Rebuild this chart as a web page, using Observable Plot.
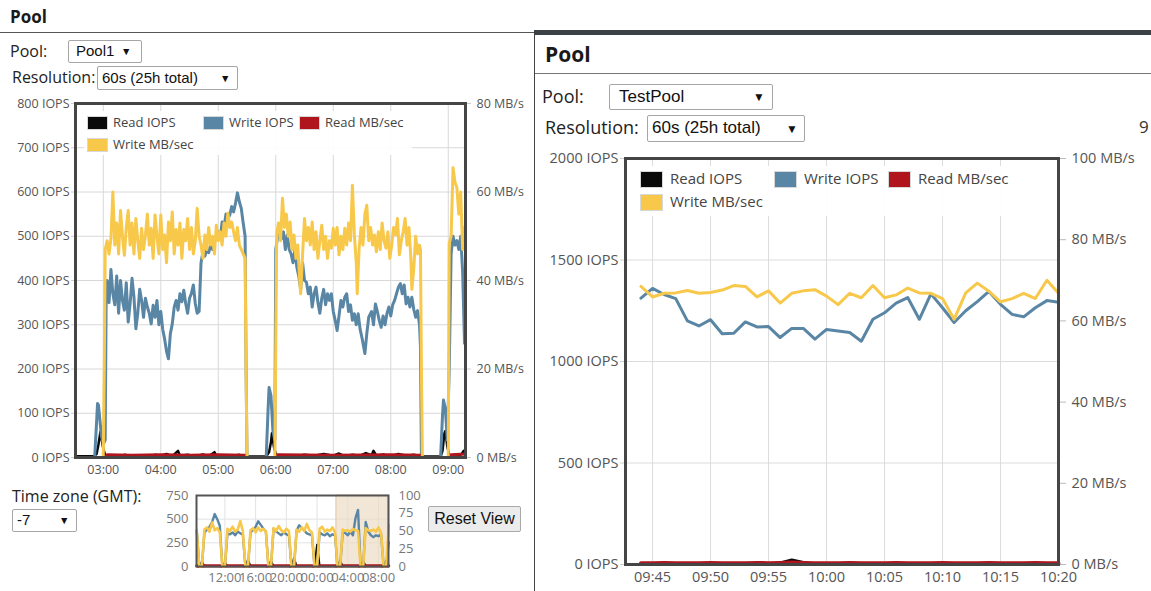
<!DOCTYPE html>
<html><head><meta charset="utf-8">
<script src="https://cdn.jsdelivr.net/npm/d3@7"></script>
<script src="https://cdn.jsdelivr.net/npm/@observablehq/plot@0.6"></script>
<style>
body{margin:0;background:#fff;}
#page{position:relative;width:1151px;height:591px;overflow:hidden;background:#fff;font-family:"Open Sans",sans-serif;color:#222;}
.a{position:absolute;white-space:nowrap;}
.sel{position:absolute;box-sizing:border-box;border:1px solid #a6a6a6;border-radius:2px;background:#fff;font-family:"Liberation Sans",Arial,sans-serif;color:#111;white-space:nowrap;}
.sel .arr{position:absolute;top:0;font-size:0.7em;}
.leg{position:absolute;background:rgba(255,255,255,0.92);}
.leg .it{position:absolute;white-space:nowrap;color:#444;}
.leg .sw{position:absolute;box-sizing:border-box;border:1px solid #d8d8d8;}
.chart{position:absolute;}
.chart svg{overflow:visible;}
</style></head>
<body><div id="page">
  <!-- left panel -->
  <div class="a" style="left:10px;top:5px;font-size:17px;font-weight:700;color:#1a1a1a;">Pool</div>
  <div class="a" style="left:0;top:32px;width:534px;height:1px;background:#555;"></div>
  <div class="a" style="left:10px;top:40px;font-size:16px;">Pool:</div>
  <div class="sel" style="left:68px;top:40px;width:74px;height:23px;font-size:15px;padding:1px 0 0 7px;">Pool1<span class="arr" style="left:52px;top:4px;">▼</span></div>
  <div class="a" style="left:12px;top:66px;font-size:16px;">Resolution:</div>
  <div class="sel" style="left:97px;top:66px;width:141px;height:24px;font-size:15px;padding:2px 0 0 4px;">60s (25h total)<span class="arr" style="left:122px;top:5px;">▼</span></div>
  <div class="a" style="left:12px;top:485px;font-size:16px;">Time zone (GMT):</div>
  <div class="sel" style="left:12px;top:509px;width:65px;height:23px;font-size:15px;padding:1px 0 0 4px;">-7<span class="arr" style="left:46px;top:4px;">▼</span></div>
  <div class="a" style="left:428px;top:506px;width:93px;height:26px;box-sizing:border-box;border:1px solid #a9a9a9;border-radius:2px;background:#ececec;font-family:'Liberation Sans',Arial,sans-serif;font-size:16px;text-align:center;line-height:24px;color:#111;">Reset View</div>
  <div class="a" style="left:534px;top:32px;width:1px;height:559px;background:#444;"></div>
  <!-- right panel -->
  <div class="a" style="left:534px;top:30px;width:617px;height:5px;background:#3b4145;"></div>
  <div class="a" style="left:545px;top:40px;font-size:21px;font-weight:700;color:#1a1a1a;">Pool</div>
  <div class="a" style="left:535px;top:73px;width:616px;height:1px;background:#777;"></div>
  <div class="a" style="left:542px;top:84px;font-size:18px;">Pool:</div>
  <div class="sel" style="left:609px;top:84px;width:164px;height:26px;font-size:17px;padding:2px 0 0 9px;">TestPool<span class="arr" style="left:143px;top:5px;">▼</span></div>
  <div class="a" style="left:545px;top:115px;font-size:18px;">Resolution:</div>
  <div class="sel" style="left:647px;top:115px;width:158px;height:27px;font-size:17px;padding:2px 0 0 4px;">60s (25h total)<span class="arr" style="left:138px;top:6px;">▼</span></div>
  <div class="a" style="left:1139px;top:115px;font-size:17px;color:#333;">9</div>

  <div id="leftMain" class="chart" style="left:0;top:95px;"></div>
  <div id="overview" class="chart" style="left:150px;top:488px;"></div>
  <div id="rightMain" class="chart" style="left:535px;top:145px;"></div>
  <div id="leftLegend" class="leg" style="left:84px;top:111px;width:328px;height:44px;"></div>
  <div id="rightLegend" class="leg" style="left:636px;top:166px;width:380px;height:50px;"></div>
</div>
<script>
// ---------------- DATA ----------------
const seriesNames = ["Read IOPS", "Write IOPS", "Read MB/sec", "Write MB/sec"];

// Left main chart (day 2), [time, value]; IOPS series in IOPS, MB series in MB/s
const leftWriteIops = [["02:31",0],["02:51",0],["02:53",80],["02:54",122],["02:55",118],["02:56",95],["02:58",50],["03:00",30],["03:02",40],["03:03",360],["03:04",400],["03:06",350],["03:08",425],["03:10",370],["03:12",345],["03:14",410],["03:16",326],["03:18",400],["03:20",355],["03:22",333],["03:24",395],["03:26",306],["03:28",348],["03:30",405],["03:32",363],["03:34",291],["03:36",326],["03:38",380],["03:40",355],["03:42",317],["03:44",360],["03:46",340],["03:48",326],["03:50",302],["03:52",344],["03:54",317],["03:56",355],["03:58",300],["04:00",330],["04:02",290],["04:04",268],["04:06",240],["04:08",223],["04:10",280],["04:12",302],["04:14",340],["04:16",355],["04:18",333],["04:20",370],["04:22",352],["04:24",378],["04:26",348],["04:28",326],["04:30",360],["04:32",371],["04:34",390],["04:36",348],["04:38",326],["04:40",330],["04:42",440],["04:44",465],["04:46",455],["04:48",470],["04:50",463],["04:52",480],["04:54",470],["04:56",490],["04:58",500],["05:00",510],["05:02",495],["05:04",532],["05:06",520],["05:08",550],["05:10",540],["05:12",548],["05:14",567],["05:16",555],["05:18",575],["05:20",598],["05:22",578],["05:24",563],["05:26",530],["05:28",500],["05:29",200],["05:30",0],["05:50",0],["05:52",110],["05:53",158],["05:55",140],["05:57",60],["05:59",40],["06:00",470],["06:02",500],["06:04",518],["06:06",495],["06:08",510],["06:10",470],["06:12",503],["06:14",470],["06:16",460],["06:18",440],["06:20",470],["06:22",430],["06:24",410],["06:26",380],["06:28",440],["06:30",400],["06:32",396],["06:34",370],["06:36",385],["06:38",340],["06:40",370],["06:42",385],["06:44",350],["06:46",326],["06:48",360],["06:50",380],["06:52",345],["06:54",370],["06:56",355],["06:58",370],["07:00",330],["07:02",310],["07:04",287],["07:06",320],["07:08",355],["07:10",340],["07:12",362],["07:14",370],["07:16",330],["07:18",345],["07:20",310],["07:22",325],["07:24",300],["07:26",325],["07:28",290],["07:30",270],["07:33",235],["07:35",280],["07:37",317],["07:40",330],["07:42",300],["07:44",347],["07:46",330],["07:48",310],["07:50",294],["07:52",320],["07:54",300],["07:56",325],["07:58",340],["08:00",320],["08:02",345],["08:04",355],["08:06",370],["08:08",385],["08:10",393],["08:12",370],["08:14",390],["08:16",347],["08:18",362],["08:20",340],["08:22",362],["08:24",335],["08:26",317],["08:28",332],["08:30",300],["08:31",250],["08:32",0],["08:52",0],["08:54",95],["08:55",130],["08:57",110],["08:59",40],["09:01",200],["09:03",460],["09:05",500],["09:07",480],["09:09",490],["09:11",470],["09:13",500],["09:15",420],["09:17",258]];
const leftWriteMB = [["03:00",0],["03:01",20],["03:02",47],["03:04",49],["03:06",46],["03:08",49.5],["03:10",60],["03:12",48],["03:14",53],["03:16",46],["03:18",55.8],["03:20",50],["03:22",45.7],["03:24",52],["03:26",55.8],["03:28",48],["03:30",53],["03:32",46],["03:34",54],["03:36",49],["03:38",45],["03:40",51.8],["03:42",47],["03:44",50.3],["03:46",55],["03:48",48],["03:50",51.8],["03:52",45],["03:54",54.8],["03:56",50],["03:58",46],["04:00",54.8],["04:02",47],["04:04",50.3],["04:06",44],["04:08",53.2],["04:10",49],["04:12",55.5],["04:14",46],["04:16",51.5],["04:18",48],["04:20",53],["04:22",45],["04:24",51.5],["04:26",49],["04:28",54],["04:30",47],["04:32",52],["04:34",46],["04:36",49],["04:38",56.3],["04:40",50],["04:42",48],["04:44",45],["04:46",50.3],["04:48",47],["04:50",52],["04:52",48],["04:54",50],["04:56",46],["04:58",52.5],["05:00",49],["05:02",51],["05:04",48],["05:06",53],["05:08",50],["05:10",55.2],["05:12",52],["05:14",53.2],["05:16",51],["05:18",49],["05:20",52],["05:22",48],["05:24",47],["05:26",46],["05:28",45],["05:29",20],["05:30",0],["05:59",0],["06:00",25],["06:01",50.8],["06:03",53],["06:05",49],["06:07",58.6],["06:09",52],["06:11",55],["06:13",50],["06:15",53.2],["06:17",47],["06:19",50.3],["06:21",45],["06:23",48],["06:25",40],["06:26",37],["06:28",46],["06:30",54],["06:32",49],["06:34",52],["06:36",48],["06:38",53.2],["06:40",47],["06:42",51],["06:44",45],["06:46",49],["06:48",52.5],["06:50",47],["06:52",50],["06:54",45],["06:56",49],["06:58",47.3],["07:00",51.8],["07:02",48],["07:04",52],["07:06",45.8],["07:08",50],["07:10",47],["07:12",51.8],["07:14",48],["07:16",53],["07:18",49],["07:20",61.5],["07:22",50.3],["07:24",44],["07:25",37],["07:27",47.3],["07:29",52],["07:31",48],["07:33",55],["07:35",57],["07:37",49],["07:39",52],["07:41",48],["07:43",50.3],["07:45",46.5],["07:47",51],["07:49",47],["07:51",53],["07:53",49],["07:55",47.3],["07:57",51],["07:59",45],["08:01",48],["08:03",52],["08:05",50.3],["08:07",54],["08:09",45.8],["08:11",49],["08:13",51],["08:15",54],["08:17",48],["08:19",52],["08:21",45],["08:22",38],["08:24",42.7],["08:26",50],["08:28",46],["08:30",48],["08:31",47],["08:32",20],["08:33",0],["09:00",0],["09:01",48.4],["09:03",50],["09:05",65.5],["09:07",62.2],["09:09",61],["09:11",55],["09:13",60],["09:15",47],["09:17",52]];
const leftReadIops = [["02:31",3],["02:50",3],["02:53",8],["02:55",30],["02:57",58],["02:58",45],["03:00",20],["03:02",5],["03:04",2],["03:10",4],["03:16",2],["03:22",6],["03:30",3],["03:38",5],["03:46",2],["03:54",6],["04:00",4],["04:06",8],["04:12",3],["04:18",15],["04:20",4],["04:28",6],["04:36",3],["04:44",7],["04:50",3],["04:56",12],["04:58",4],["05:06",5],["05:14",3],["05:22",6],["05:28",3],["05:30",2],["05:50",2],["05:53",12],["05:55",35],["05:56",55],["05:58",25],["06:00",8],["06:02",3],["06:10",5],["06:20",3],["06:30",6],["06:40",4],["06:50",8],["07:00",4],["07:06",9],["07:12",3],["07:20",6],["07:28",4],["07:34",10],["07:40",5],["07:42",15],["07:45",4],["07:52",7],["08:00",3],["08:08",8],["08:16",4],["08:24",6],["08:31",3],["08:33",2],["08:52",2],["08:54",15],["08:56",55],["08:57",60],["08:59",25],["09:01",6],["09:05",3],["09:10",5],["09:14",8],["09:16",15],["09:18",10]];
const leftReadMB = [["02:31",0],["03:02",0],["03:04",0.6],["03:30",0.5],["04:00",0.6],["04:30",0.5],["05:00",0.6],["05:28",0.5],["05:30",0],["06:00",0],["06:02",0.6],["07:00",0.5],["08:00",0.6],["08:31",0.5],["08:33",0],["09:01",0],["09:03",0.6],["09:18",0.8]];
const leftIopsTicks = [0,100,200,300,400,500,600,700,800];
const leftMBTicks = [0,20,40,60,80];
const leftHourTicks = ["03:00","04:00","05:00","06:00","07:00","08:00","09:00"];
const leftDomain = ["02:31","09:18"];

// Overview (25 h), samples every 20 min from day1 08:20
const overviewStart = "08:20";
const overviewWriteIops = [380,0,0,360,390,420,470,554,500,430,0,0,350,340,360,330,370,350,340,0,0,360,390,420,478,440,400,370,0,0,400,370,350,330,360,340,330,0,0,380,435,410,380,350,340,330,0,0,360,340,330,350,320,340,330,0,0,355,355,330,370,330,510,598,0,0,470,370,330,310,330,320,340,0,0,258];
const overviewWriteMB = [50,0,0,52,55,49,62,51,54,48,0,0,53,50,56,49,52,64,50,0,0,51,54,48,55,50,53,49,0,0,54,50,57,51,48,53,50,0,0,52,49,55,50,60,51,48,0,0,53,56,49,52,50,55,48,0,0,52,50,51,49,53,51,50,0,0,54,51,50,52,49,55,47,0,0,58];
const overviewReadIops = [3,3,50,3,3,3,3,3,3,3,3,40,3,3,3,3,3,3,3,3,70,3,3,3,3,3,3,3,3,60,3,3,3,3,3,3,3,3,90,3,3,3,3,3,3,3,3,230,3,3,3,3,3,3,3,3,60,3,3,3,3,3,3,3,3,55,3,3,3,3,3,3,3,3,60,3];
const overviewReadMB = [1,0,0,1,1,1,1,1,1,1,0,0,1,1,1,1,1,1,1,0,0,1,1,1,1,1,1,1,0,0,1,1,1,1,1,1,1,0,0,1,1,1,1,1,1,1,0,0,1,1,1,1,1,1,1,0,0,1,1,1,1,1,1,1,0,0,1,1,1,1,1,1,1,0,0,1];
const overviewIopsTicks = [0,250,500,750];
const overviewMBTicks = [0,25,50,75,100];
const overviewTimeTicks = [["1","12:00"],["1","16:00"],["1","20:00"],["2","00:00"],["2","04:00"],["2","08:00"]];
const overviewDomain = [["1","08:18"],["2","09:18"]];

// Right main chart, one sample per minute from 09:44
const rightStart = "09:44";
const rightWriteIops = [1312,1360,1330,1310,1200,1175,1206,1137,1139,1195,1170,1172,1118,1163,1163,1110,1158,1150,1143,1100,1208,1240,1288,1315,1208,1333,1265,1192,1250,1295,1345,1282,1232,1220,1265,1300,1292];
const rightWriteMB = [68.5,65.9,66.8,66.9,67.5,66.8,67,67.6,68.7,68.5,65.9,67.4,64.4,66.8,67.4,67.7,66.1,64,66.8,65.7,68.7,65.7,66.4,68.1,66.9,66.8,65.5,60.4,66.9,69.3,67.3,64.7,65.5,66.8,65.5,70,66.8];
const rightReadIops = [2,2,1,2,3,2,1,2,2,3,2,2,8,22,10,3,2,1,2,2,3,2,1,2,2,3,2,2,1,2,2,3,2,2,1,2,2];
const rightReadMB = [0.3,0.3,0.4,0.3,0.3,0.3,0.4,0.3,0.3,0.3,0.4,0.3,0.4,0.5,0.4,0.3,0.3,0.3,0.4,0.3,0.3,0.3,0.4,0.3,0.3,0.3,0.4,0.3,0.3,0.3,0.4,0.3,0.3,0.3,0.4,0.3,0.3];
const rightIopsTicks = [0,500,1000,1500,2000];
const rightMBTicks = [0,20,40,60,80,100];
const rightTimeTicks = ["09:45","09:50","09:55","10:00","10:05","10:10","10:15","10:20"];
const rightDomain = ["09:42:40","10:20:00"];

// ---------------- RENDER ----------------
const COL = {"Read IOPS":"#0a0a0a","Write IOPS":"#5a86a5","Read MB/sec":"#b0141c","Write MB/sec":"#f8c84a"};
const day = d => d === "1" ? "2017-03-01" : "2017-03-02";
const T = (s, d = "2") => new Date(`${day(d)}T${s.length === 5 ? s + ":00" : s}`);
const hm = d3.timeFormat("%H:%M");
const FONT = "'Open Sans', 'Noto Sans', sans-serif";

// left main
{
  const k = 10; // 80 MB/s <-> 800 IOPS
  const pts = arr => arr.map(([t, v]) => ({t: T(t), v}));
  const chart = Plot.plot({
    width: 535, height: 385,
    marginLeft: 75, marginRight: 70, marginTop: 8, marginBottom: 23,
    style: {fontFamily: FONT, fontSize: "12.5px", color: "#555", background: "transparent"},
    x: {type: "time", domain: leftDomain.map(s => T(s))},
    y: {domain: [0, 800]},
    marks: [
      Plot.gridX(leftHourTicks.map(s => T(s)), {stroke: "#d8d8d8", strokeOpacity: 1}),
      Plot.gridY(leftIopsTicks, {stroke: "#d8d8d8", strokeOpacity: 1}),
      Plot.axisY(leftIopsTicks, {anchor: "left", tickFormat: d => `${d} IOPS`, tickSize: 4, tickPadding: 2, stroke: "#ccc", fill: "#555", label: null}),
      Plot.axisY(leftMBTicks.map(v => v * k), {anchor: "right", tickFormat: d => `${d / k} MB/s`, tickSize: 5, tickPadding: 6, stroke: "#ccc", fill: "#555", label: null}),
      Plot.axisX(leftHourTicks.map(s => T(s)), {tickFormat: hm, tickSize: 0, tickPadding: 8, fill: "#555", label: null}),
      Plot.line(pts(leftReadIops), {x: "t", y: "v", stroke: COL["Read IOPS"], strokeWidth: 2.5}),
      Plot.line(pts(leftWriteIops), {x: "t", y: "v", stroke: COL["Write IOPS"], strokeWidth: 3}),
      Plot.line(pts(leftReadMB), {x: "t", y: d => d.v * k, stroke: COL["Read MB/sec"], strokeWidth: 3}),
      Plot.line(pts(leftWriteMB), {x: "t", y: d => d.v * k, stroke: COL["Write MB/sec"], strokeWidth: 3}),
      Plot.frame({stroke: "#454545", strokeWidth: 3})
    ]
  });
  document.getElementById("leftMain").append(chart);
}

// overview
{
  const k = 7.5; // 100 MB/s <-> 750 IOPS
  const t0 = T(overviewStart, "1");
  const ser = arr => arr.map((v, i) => ({t: d3.timeMinute.offset(t0, i * 20), v}));
  const chart = Plot.plot({
    width: 280, height: 103,
    marginLeft: 46, marginRight: 42, marginTop: 7, marginBottom: 25,
    style: {fontFamily: FONT, fontSize: "13px", color: "#666", background: "transparent"},
    x: {type: "time", domain: overviewDomain.map(([d, s]) => T(s, d))},
    y: {domain: [0, 750]},
    marks: [
      Plot.gridX(overviewTimeTicks.map(([d, s]) => T(s, d)), {stroke: "#e2e2e2", strokeOpacity: 1}),
      Plot.gridY(overviewIopsTicks, {stroke: "#e2e2e2", strokeOpacity: 1}),
      Plot.rect([leftDomain], {x1: d => T(d[0]), x2: d => T(d[1]), fill: "#ecdcc6", fillOpacity: 0.7, stroke: "#dcc6a8", strokeWidth: 1}),
      Plot.axisY(overviewIopsTicks, {anchor: "left", tickSize: 0, tickPadding: 8, fill: "#777", label: null}),
      Plot.axisY(overviewMBTicks.map(v => v * k), {anchor: "right", tickFormat: d => `${d / k}`, tickSize: 0, tickPadding: 10, fill: "#777", label: null}),
      Plot.axisX(overviewTimeTicks.map(([d, s]) => T(s, d)), {tickFormat: hm, tickSize: 0, tickPadding: 6, fill: "#777", label: null}),
      Plot.line(ser(overviewReadIops), {x: "t", y: "v", stroke: COL["Read IOPS"], strokeWidth: 2}),
      Plot.line(ser(overviewWriteIops), {x: "t", y: "v", stroke: COL["Write IOPS"], strokeWidth: 2.4}),
      Plot.line(ser(overviewReadMB), {x: "t", y: d => d.v * k, stroke: COL["Read MB/sec"], strokeWidth: 3}),
      Plot.line(ser(overviewWriteMB), {x: "t", y: d => d.v * k, stroke: COL["Write MB/sec"], strokeWidth: 2.6}),
      Plot.frame({stroke: "#555", strokeWidth: 2})
    ]
  });
  document.getElementById("overview").append(chart);
}

// right main
{
  const k = 20; // 100 MB/s <-> 2000 IOPS
  const t0 = T(rightStart);
  const ser = arr => arr.map((v, i) => ({t: d3.timeMinute.offset(t0, i), v}));
  const chart = Plot.plot({
    width: 616, height: 446,
    marginLeft: 90, marginRight: 93, marginTop: 13, marginBottom: 27,
    style: {fontFamily: FONT, fontSize: "14.5px", color: "#555", background: "transparent"},
    x: {type: "time", domain: rightDomain.map(s => T(s))},
    y: {domain: [0, 2000]},
    marks: [
      Plot.gridX(rightTimeTicks.map(s => T(s)), {stroke: "#dcdcdc", strokeOpacity: 1}),
      Plot.gridY(rightIopsTicks, {stroke: "#dcdcdc", strokeOpacity: 1}),
      Plot.axisY(rightIopsTicks, {anchor: "left", tickFormat: d => `${d} IOPS`, tickSize: 5, tickPadding: 2, stroke: "#ccc", fill: "#555", label: null}),
      Plot.axisY(rightMBTicks.map(v => v * k), {anchor: "right", tickFormat: d => `${d / k} MB/s`, tickSize: 7, tickPadding: 6, stroke: "#bbb", fill: "#555", label: null}),
      Plot.axisX(rightTimeTicks.map(s => T(s)), {tickFormat: hm, tickSize: 0, tickPadding: 7, fill: "#555", label: null}),
      Plot.line(ser(rightReadIops), {x: "t", y: "v", stroke: COL["Read IOPS"], strokeWidth: 3}),
      Plot.line(ser(rightWriteIops), {x: "t", y: "v", stroke: COL["Write IOPS"], strokeWidth: 3}),
      Plot.line(ser(rightReadMB), {x: "t", y: d => d.v * k, stroke: COL["Read MB/sec"], strokeWidth: 4}),
      Plot.line(ser(rightWriteMB), {x: "t", y: d => d.v * k, stroke: COL["Write MB/sec"], strokeWidth: 3}),
      Plot.frame({stroke: "#454545", strokeWidth: 3})
    ]
  });
  document.getElementById("rightMain").append(chart);
}

// legends
function legend(id, opt) {
  const el = document.getElementById(id);
  seriesNames.forEach((name, i) => {
    const [x, y] = opt.pos[i];
    const sw = document.createElement("div");
    sw.className = "sw";
    Object.assign(sw.style, {left: x + "px", top: y + "px", width: opt.sw[0] + "px", height: opt.sw[1] + "px", background: COL[name]});
    el.append(sw);
    const tx = document.createElement("div");
    tx.className = "it";
    tx.textContent = name;
    Object.assign(tx.style, {left: (x + opt.sw[0] + opt.gap) + "px", top: (y + opt.dy) + "px", fontSize: opt.fs + "px"});
    el.append(tx);
  });
}
legend("leftLegend", {pos: [[3, 5], [119, 5], [215, 5], [3, 27]], sw: [21, 14], gap: 5, dy: -3, fs: 13});
legend("rightLegend", {pos: [[4, 5], [138, 5], [252, 5], [4, 28]], sw: [23, 17], gap: 7, dy: -3, fs: 15});
</script>
</body></html>
